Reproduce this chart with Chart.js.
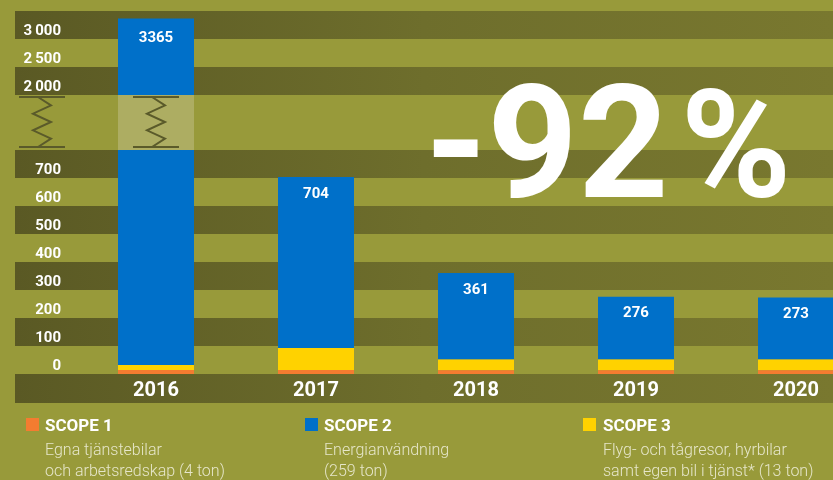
<!DOCTYPE html>
<html>
<head>
<meta charset="utf-8">
<script src="https://cdn.jsdelivr.net/npm/chart.js@4/dist/chart.umd.min.js"></script>
<style>
    html, body { margin: 0; padding: 0; overflow: hidden; background: #989a3a; }
    body { width: 833px; height: 480px; position: relative; font-family: Roboto, "DejaVu Sans", sans-serif; }
    #wrap { position: absolute; left: 0; top: 0; width: 900px; height: 480px; }
    .big { position: absolute; left: 425px; top: 64px; font-size: 158px; line-height: 158px; font-weight: 700; color: #fff; letter-spacing: 0px; white-space: nowrap; }
    .big span { margin-left: 12px; font-size: 150px; }
    .sq { position: absolute; width: 13px; height: 13px; top: 418px; }
    .title { position: absolute; top: 415px; font-size: 17px; line-height: 20px; font-weight: 700; color: #fff; white-space: nowrap; }
    .desc { position: absolute; top: 439px; font-size: 16px; line-height: 21px; font-weight: 300; color: #e6e6ca; white-space: nowrap; }
</style>
</head>
<body>
<div id="wrap"><canvas id="chart"></canvas></div>
<div class="big">-92<span>%</span></div>

<div class="sq" style="left:26px;background:#f47c30"></div>
<div class="title" style="left:45px">SCOPE 1</div>
<div class="desc" style="left:45px">Egna tjänstebilar<br>och arbetsredskap (4 ton)</div>

<div class="sq" style="left:305px;background:#0070c9"></div>
<div class="title" style="left:324px">SCOPE 2</div>
<div class="desc" style="left:324px">Energianvändning<br>(259 ton)</div>

<div class="sq" style="left:583px;background:#ffd200"></div>
<div class="title" style="left:603px">SCOPE 3</div>
<div class="desc" style="left:603px">Flyg- och tågresor, hyrbilar<br>samt egen bil i tjänst* (13 ton)</div>

<script>
const years = ['2016', '2017', '2018', '2019', '2020'];
const scope1 = [14, 14, 13, 13, 13];
const scope3 = [18, 79, 39, 39, 39];
const scope2 = [3333, 611, 309, 224, 221];
const totals = [3365, 704, 361, 276, 273];
const yTicks = [0, 100, 200, 300, 400, 500, 600, 700, 2000, 2500, 3000];

// broken y axis: 0-800 gets most room, 800-2000 is squeezed into the gap
const SEGMENTS = [
    {lo: 0, hi: 800, w: 224},
    {lo: 800, hi: 2000, w: 55},
    {lo: 2000, hi: 3500, w: 84}
];
const SEG_TOTAL = SEGMENTS.reduce((s, g) => s + g.w, 0);

class BrokenScale extends Chart.LinearScale {
    buildTicks() {
        return yTicks.map(v => ({value: v}));
    }
    getPixelForValue(value) {
        let acc = 0;
        for (let i = 0; i < SEGMENTS.length; i++) {
            const g = SEGMENTS[i];
            if (value <= g.hi || i === SEGMENTS.length - 1) {
                return this.getPixelForDecimal((acc + (value - g.lo) / (g.hi - g.lo) * g.w) / SEG_TOTAL);
            }
            acc += g.w;
        }
    }
    getValueForPixel(pixel) {
        let d = this.getDecimalForPixel(pixel) * SEG_TOTAL;
        for (let i = 0; i < SEGMENTS.length; i++) {
            const g = SEGMENTS[i];
            if (d <= g.w || i === SEGMENTS.length - 1) return g.lo + d / g.w * (g.hi - g.lo);
            d -= g.w;
        }
    }
}
BrokenScale.id = 'broken';
BrokenScale.defaults = Chart.LinearScale.defaults;
Chart.register(BrokenScale);

const stripes = {
    id: 'stripes',
    beforeDraw(chart) {
        const {ctx, scales: {y}} = chart;
        ctx.save();
        ctx.fillStyle = '#989a3a';
        ctx.fillRect(0, 0, chart.width, chart.height);
        const grad = ctx.createLinearGradient(15, 0, 833, 0);
        grad.addColorStop(0, '#5a5924');
        grad.addColorStop(0.5, '#6e6e2c');
        grad.addColorStop(1, '#79782f');
        ctx.fillStyle = grad;
        const dark = [[100, 200], [300, 400], [500, 600], [700, 800], [2000, 2500], [3000, 3500]];
        dark.forEach(([a, b]) => {
            const top = y.getPixelForValue(b);
            ctx.fillRect(15, top, chart.width, y.getPixelForValue(a) - top);
        });
        // band under the bars holding the year labels
        const base = y.getPixelForValue(0);
        ctx.fillRect(15, base, chart.width, 29);
        ctx.restore();
    }
};

const drawSpring = (ctx, cx, top, bottom) => {
    ctx.beginPath();
    ctx.moveTo(cx - 23, top);
    ctx.lineTo(cx + 23, top);
    ctx.moveTo(cx - 23, bottom);
    ctx.lineTo(cx + 23, bottom);
    const steps = 6;
    ctx.moveTo(cx - 4, top);
    for (let i = 1; i < steps; i++) {
        const yy = top + (bottom - top) * i / steps;
        ctx.lineTo(cx + (i % 2 ? 9 : -9), yy);
    }
    ctx.lineTo(cx - 4, bottom);
    ctx.stroke();
};

const overlay = {
    id: 'overlay',
    afterDatasetsDraw(chart) {
        const {ctx, scales: {y}} = chart;
        const y1 = y.getPixelForValue(800);
        const y2 = y.getPixelForValue(2000);
        const bar = chart.getDatasetMeta(2).data[0];
        ctx.save();
        ctx.fillStyle = '#adad62';
        ctx.fillRect(bar.x - bar.width / 2, y2, bar.width, y1 - y2);
        ctx.strokeStyle = '#5a5a2a';
        ctx.lineWidth = 2;
        drawSpring(ctx, chart.chartArea.left - 34, y2 + 2, y1 - 3);
        drawSpring(ctx, bar.x, y2 + 2, y1 - 3);

        ctx.fillStyle = '#ffffff';
        ctx.font = 'bold 15px Roboto';
        ctx.textAlign = 'center';
        ctx.textBaseline = 'middle';
        chart.getDatasetMeta(2).data.forEach((b, i) => {
            ctx.fillText(totals[i], b.x, b.y + (i === 0 ? 20 : 17));
        });
        ctx.restore();
    }
};

new Chart(document.getElementById('chart'), {
    type: 'bar',
    data: {
        labels: years,
        datasets: [
            {label: 'SCOPE 1', data: scope1, backgroundColor: '#f47c30'},
            {label: 'SCOPE 3', data: scope3, backgroundColor: '#ffd200'},
            {label: 'SCOPE 2', data: scope2, backgroundColor: '#0070c9'}
        ]
    },
    options: {
        responsive: true,
        maintainAspectRatio: false,
        animation: false,
        datasets: {bar: {barPercentage: 0.475, categoryPercentage: 1}},
        layout: {padding: {left: 0, right: 24, top: 11, bottom: 77}},
        plugins: {legend: {display: false}, tooltip: {enabled: false}},
        scales: {
            x: {
                stacked: true,
                grid: {display: false, drawTicks: false},
                border: {display: false},
                ticks: {color: '#ffffff', font: {family: 'Roboto', size: 20, weight: 'bold'}, padding: 5},
                afterFit: (scale) => { scale.height = 29; scale.paddingLeft = 0; scale.paddingRight = 0; }
            },
            y: {
                type: 'broken',
                stacked: true,
                min: 0,
                max: 3500,
                grid: {display: false, drawTicks: false},
                border: {display: false},
                ticks: {
                    color: '#ffffff',
                    autoSkip: false,
                    padding: 15,
                    labelOffset: -8,
                    font: {family: 'Roboto', size: 15, weight: 'bold'},
                    callback: (v) => v >= 1000 ? String(v).replace(/(\d)(\d{3})$/, '$1\u2009$2') : String(v)
                },
                afterFit: (scale) => { scale.width = 76; scale.paddingTop = 0; scale.paddingBottom = 0; }
            }
        }
    },
    plugins: [stripes, overlay]
});
</script>
</body>
</html>
